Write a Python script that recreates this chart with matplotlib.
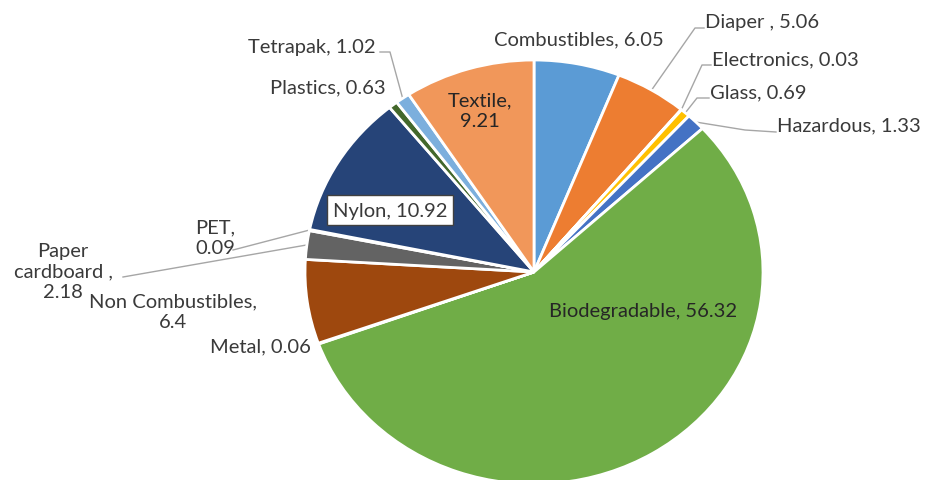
import numpy as np
import matplotlib
matplotlib.use("Agg")
import matplotlib.pyplot as plt

categories = ["Combustibles", "Diaper", "Electronics", "Glass", "Hazardous",
              "Biodegradable", "Metal", "Non Combustibles", "Paper cardboard",
              "PET", "Nylon", "Plastics", "Tetrapak", "Textile"]
values = [6.05, 5.06, 0.03, 0.69, 1.33, 56.32, 0.06, 6.4, 2.18, 0.09, 10.92, 0.63, 1.02, 9.21]
label_texts = ["Combustibles, 6.05", "Diaper , 5.06", "Electronics, 0.03", "Glass, 0.69",
               "Hazardous, 1.33", "Biodegradable, 56.32", "Metal, 0.06",
               "Non Combustibles,\n6.4", "Paper\ncardboard ,\n2.18", "PET,\n0.09",
               "Nylon, 10.92", "Plastics, 0.63", "Tetrapak, 1.02", "Textile,\n9.21"]
colors = ["#5B9BD5", "#ED7D31", "#A5A5A5", "#FFC000", "#4472C4", "#70AD47", "#255E91",
          "#9E480E", "#636363", "#997300", "#264478", "#43682B", "#7CAFDD", "#F1975A"]

W, H = 929, 481
CX, CY, RX, RY = 534, 273, 229, 212

fig = plt.figure(figsize=(W / 100, H / 100), dpi=100)
ax = fig.add_axes([0, 0, 1, 1])
wedges, _ = ax.pie(values, colors=colors, startangle=90, counterclock=False,
                   wedgeprops=dict(edgecolor="white", linewidth=2))
ax.set_aspect("auto")
ax.set_xlim((0 - CX) / RX, (W - CX) / RX)
ax.set_ylim(-(H - CY) / RY, CY / RY)
ax.axis("off")


def P(px, py):
    return ((px - CX) / RX, (CY - py) / RY)


def edge(i):
    w = wedges[i]
    a = np.deg2rad((w.theta1 + w.theta2) / 2)
    return (np.cos(a), np.sin(a))


FS = 14.5
FONT = ["Lato", "DejaVu Sans"]
TC = "#3A3A3A"

# label placements (pixel): (x, y, ha)
pos = {
    0: (579, 40, "center"),
    1: (705, 22, "left"),
    2: (712, 60, "left"),
    3: (710, 93, "left"),
    4: (777, 126, "left"),
    5: (643, 312, "center"),
    6: (260, 347, "center"),
    7: (173, 312, "center"),
    8: (63, 272, "center"),
    9: (215, 238, "center"),
    10: (390, 211, "center"),
    11: (386, 88, "right"),
    12: (376, 48, "right"),
    13: (480, 111, "center"),
}

for i, (px, py, ha) in pos.items():
    kw = dict(ha=ha, va="center", fontsize=FS, family=FONT, color=TC,
              linespacing=1.25, multialignment="center")
    if i == 10:
        kw["bbox"] = dict(boxstyle="square,pad=0.3", facecolor="white",
                          edgecolor="#404040", linewidth=1)
    if i in (5, 13):
        kw["color"] = "#262626"
    x, y = P(px, py)
    ax.text(x, y, label_texts[i], **kw)

# leader lines: wedge edge -> via points (pixel)
leaders = {
    1: [(695, 29), (704, 29)],
    2: [(702, 66), (711, 66)],
    3: [(697, 99), (709, 99)],
    4: [(745, 131), (776, 133)],
    12: [(390, 53), (380, 53)],
    9: [(233, 251)],
    8: [(123, 278)],
}
for i, pts in leaders.items():
    ex, ey = edge(i)
    xs = [ex] + [P(*p)[0] for p in pts]
    ys = [ey] + [P(*p)[1] for p in pts]
    ax.plot(xs, ys, color="#A6A6A6", linewidth=1, zorder=0.5)

fig.savefig("out.png", dpi=100, facecolor="white")
